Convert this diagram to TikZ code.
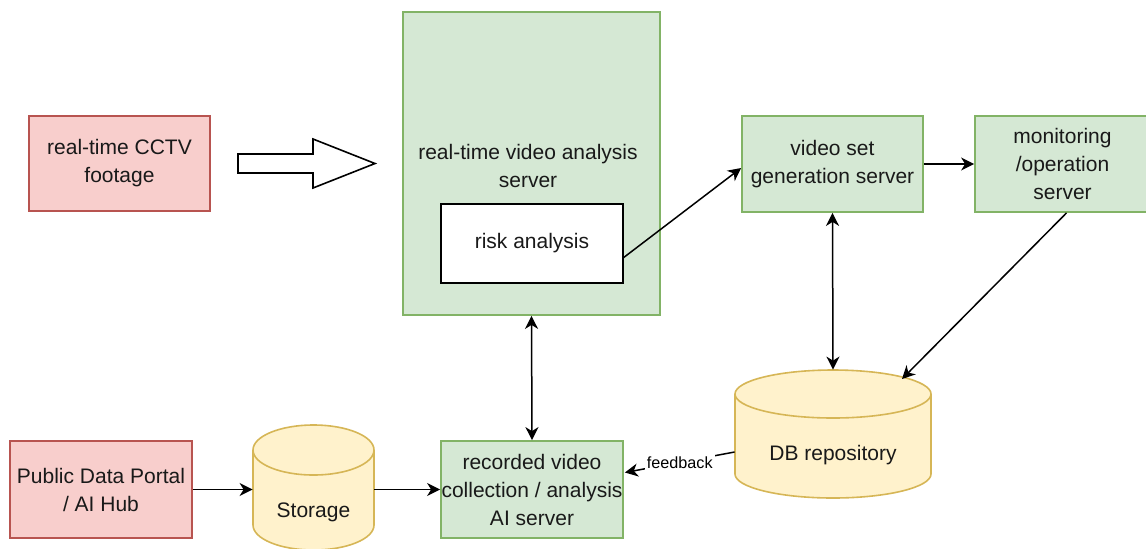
\documentclass[tikz,border=0pt]{standalone}
\usepackage{fontspec}
\setmainfont{Liberation Sans}
\usetikzlibrary{arrows.meta,calc}

\definecolor{redfill}{HTML}{F8CECC}
\definecolor{redline}{HTML}{B85450}
\definecolor{greenfill}{HTML}{D5E8D4}
\definecolor{greenline}{HTML}{82B366}
\definecolor{yellowfill}{HTML}{FFF2CC}
\definecolor{yellowline}{HTML}{D6B656}

\tikzset{
  label text/.style={font=\fontsize{10.5}{14}\selectfont, align=center, inner sep=0pt, text=black!90},
  redbox/.style={draw=redline, fill=redfill, line width=0.9pt, label text},
  greenbox/.style={draw=greenline, fill=greenfill, line width=0.9pt, label text},
  whitebox/.style={draw=black, fill=white, line width=0.7pt, label text},
  cylfill/.style={draw=yellowline, fill=yellowfill, line width=0.8pt},
  tip/.style={Stealth[length=6.5pt,width=6.5pt,inset=2pt]},
  flow/.style={-{Stealth[length=6.5pt,width=6.5pt,inset=2pt]}, line width=0.75pt},
  twoway/.style={{Stealth[length=6.5pt,width=6.5pt,inset=2pt]}-{Stealth[length=6.5pt,width=6.5pt,inset=2pt]}, line width=0.75pt},
  hollowarrow/.style={draw=black, fill=white, line width=0.8pt},
}

\begin{document}
\begin{tikzpicture}[x=0.5pt, y=-0.5pt]
\useasboundingbox (0,0) rectangle (1146,548);

% input sources
\node[redbox, minimum width=90.5pt, minimum height=47.5pt] (cctv) at (119.5,163.5) {real-time CCTV\\footage};
\node[redbox, minimum width=91pt, minimum height=48.5pt] (portal) at (101,489.5) {Public Data Portal\\/ AI Hub};

% hollow block arrow feeding the live stream
\draw[hollowarrow] (238,154) -- (313,154) -- (313,139) -- (375,163.5) -- (313,188) -- (313,173) -- (238,173) -- cycle;

% real-time analysis server with its inner module
\node[greenbox, minimum width=128.5pt, minimum height=151.5pt] (rt) at (531.5,163.5) {};
\node[label text] (rttitle) at (528,166) {real-time video analysis\\server};
\node[whitebox, minimum width=91pt, minimum height=39.5pt] (risk) at (532,243.5) {risk analysis};

% servers on the right
\node[greenbox, minimum width=90.5pt, minimum height=48pt] (vset) at (832.5,164) {video set\\generation server};
\node[greenbox, minimum width=87.5pt, minimum height=48pt] (mon) at (1062.5,164) {monitoring\\/operation\\server};
\node[greenbox, minimum width=91pt, minimum height=48.5pt] (rec) at (532,489.5) {recorded video\\collection / analysis\\AI server};

% DB repository cylinder
\node[minimum width=98pt, minimum height=64pt, inner sep=0pt] (db) at (833,434) {};
\fill[yellowfill] (735,394) -- (735,474) arc (180:0:98 and 24) -- (931,394) -- cycle;
\draw[cylfill] (735,394) -- (735,474) arc (180:0:98 and 24) -- (931,394);
\draw[cylfill] (833,394) ellipse (98 and 24);
\node[label text] (dbtext) at (833,455) {DB repository};

% Storage cylinder
\node[minimum width=60.5pt, minimum height=62.5pt, inner sep=0pt] (storage) at (313.5,487.5) {};
\fill[yellowfill] (253,450) -- (253,525) arc (180:0:60.5 and 25) -- (374,450) -- cycle;
\draw[cylfill] (253,450) -- (253,525) arc (180:0:60.5 and 25) -- (374,450);
\draw[cylfill] (313.5,450) ellipse (60.5 and 25);
\node[label text] (storagetext) at (313.5,512) {Storage};

% connectors
\coordinate (dbrim) at (902,379);
\draw[flow] (portal.east) -- (portal.east -| storage.west);
\draw[flow] (storage.east |- rec.west) -- (rec.west);
\draw[twoway] (rt.south) -- (rec.north);
\draw[flow] ($(risk.east)+(0,14)$) -- ($(vset.west)+(0,4)$);
\draw[flow] (vset.east) -- (mon.west);
\draw[twoway] (vset.south) -- (db.north);
\draw[flow] ($(mon.south)+(4,0)$) -- (dbrim);
\draw[flow] ($(db.west)+(0,18)$) -- node[pos=0.5, fill=white, inner sep=1pt, font=\fontsize{8.1}{10}\selectfont] (fb) {feedback} ($(rec.east)+(1,-17)$);
\end{tikzpicture}
\end{document}
